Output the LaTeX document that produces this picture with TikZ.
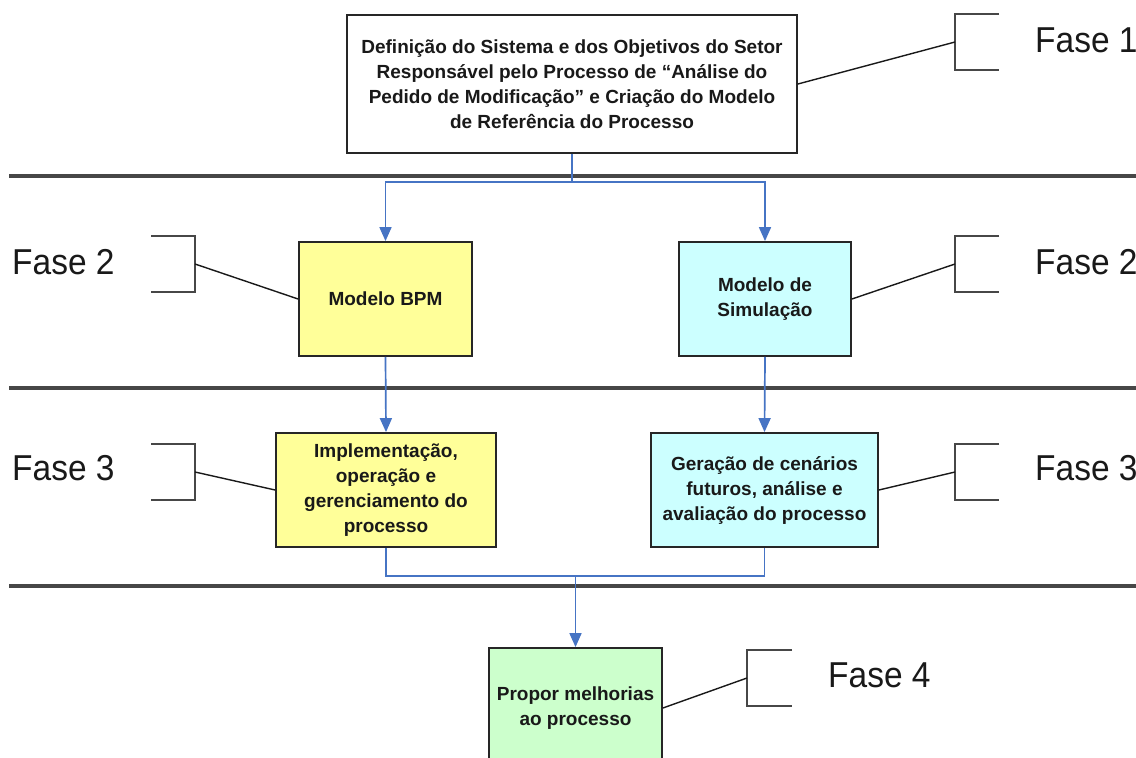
\documentclass[tikz,border=0pt]{standalone}
\usepackage{fontspec}
\setmainfont{Liberation Sans}
\usetikzlibrary{arrows.meta}
\definecolor{flowblue}{RGB}{70,116,196}
\definecolor{yfill}{RGB}{255,255,153}
\definecolor{cfill}{RGB}{204,255,255}
\definecolor{gfill}{RGB}{204,255,204}
\definecolor{txt}{RGB}{25,25,25}
\tikzset{
  box/.style={draw=black!85, line width=1.8pt, rectangle, inner sep=0pt, align=center,
    font=\bfseries\fontsize{19}{25}\selectfont, text=txt},
  sep/.style={draw=black!72, line width=3.2pt},
  brk/.style={draw=black!72, line width=2.2pt},
  lead/.style={draw=black!90, line width=1.4pt},
  link/.style={draw=flowblue, line width=1.7pt},
  flow/.style={link, -{Triangle[length=14pt,width=12pt]}},
  fase/.style={inner sep=0pt, text=txt, font=\fontsize{36}{40}\selectfont}
}
\begin{document}
\begin{tikzpicture}[x=1pt,y=-1pt]
\useasboundingbox (0,0) rectangle (1136,758);
\fill[white] (0,0) rectangle (1136,758);
\clip (0,0) rectangle (1136,758);

% separators
\draw[sep] (9,176) -- (1136,176);
\draw[sep] (9,388) -- (1136,388);
\draw[sep] (9,586) -- (1136,586);

% boxes
\node[box, fill=white, minimum width=450pt, minimum height=138pt] (top) at (572,84)
  {Definição do Sistema e dos Objetivos do Setor\\Responsável pelo Processo de “Análise do\\Pedido de Modificação” e Criação do Modelo\\de Referência do Processo};
\node[box, fill=yfill, minimum width=173pt, minimum height=114pt] (bpm) at (385.5,299) {Modelo BPM};
\node[box, fill=cfill, minimum width=172pt, minimum height=114pt] (sim) at (765,299) {Modelo de\\Simulação};
\node[box, fill=yfill, minimum width=220pt, minimum height=114pt] (impl) at (386,490)
  {Implementação,\\operação e\\gerenciamento do\\processo};
\node[box, fill=cfill, minimum width=227pt, minimum height=114pt] (ger) at (764.5,490)
  {Geração de cenários\\futuros, análise e\\avaliação do processo};
\node[box, fill=gfill, minimum width=173pt, minimum height=120pt] (prop) at (575.5,708)
  {Propor melhorias\\ao processo};

% flow connectors
\coordinate (j1) at (572,182);
\draw[flow] (top.south) -- (j1) -| (bpm.north);
\draw[flow] (j1) -| (sim.north);
\draw[flow] (bpm.south) -- (impl.north);
\draw[flow] (sim.south) -- (ger.north);
\coordinate (j2) at (575.5,576);
\draw[link] (impl.south) |- (j2) -| (ger.south);
\draw[flow] (j2) -- (prop.north);

% phase labels
\node[fase, anchor=west] (f1) at (1035,40) {\scalebox{0.93}[1]{Fase 1}};
\node[fase, anchor=west] (f2l) at (12,262) {\scalebox{0.93}[1]{Fase 2}};
\node[fase, anchor=west] (f2r) at (1035,262) {\scalebox{0.93}[1]{Fase 2}};
\node[fase, anchor=west] (f3l) at (12,468) {\scalebox{0.93}[1]{Fase 3}};
\node[fase, anchor=west] (f3r) at (1035,468) {\scalebox{0.93}[1]{Fase 3}};
\node[fase, anchor=west] (f4) at (828,675) {\scalebox{0.93}[1]{Fase 4}};

% brackets
\coordinate (b1) at (955,42);
\coordinate (b2l) at (195,264);
\coordinate (b2r) at (955,264);
\coordinate (b3l) at (195,472);
\coordinate (b3r) at (955,472);
\coordinate (b4) at (747,678);
\draw[brk] (999,14) -- (955,14) -- (955,70) -- (999,70);
\draw[brk] (151,236) -- (195,236) -- (195,292) -- (151,292);
\draw[brk] (999,236) -- (955,236) -- (955,292) -- (999,292);
\draw[brk] (151,444) -- (195,444) -- (195,500) -- (151,500);
\draw[brk] (999,444) -- (955,444) -- (955,500) -- (999,500);
\draw[brk] (792,650) -- (747,650) -- (747,706) -- (792,706);

% leader lines
\draw[lead] (top.east) -- (b1);
\draw[lead] (bpm.west) -- (b2l);
\draw[lead] (sim.east) -- (b2r);
\draw[lead] (impl.west) -- (b3l);
\draw[lead] (ger.east) -- (b3r);
\draw[lead] (prop.east) -- (b4);
\end{tikzpicture}
\end{document}
